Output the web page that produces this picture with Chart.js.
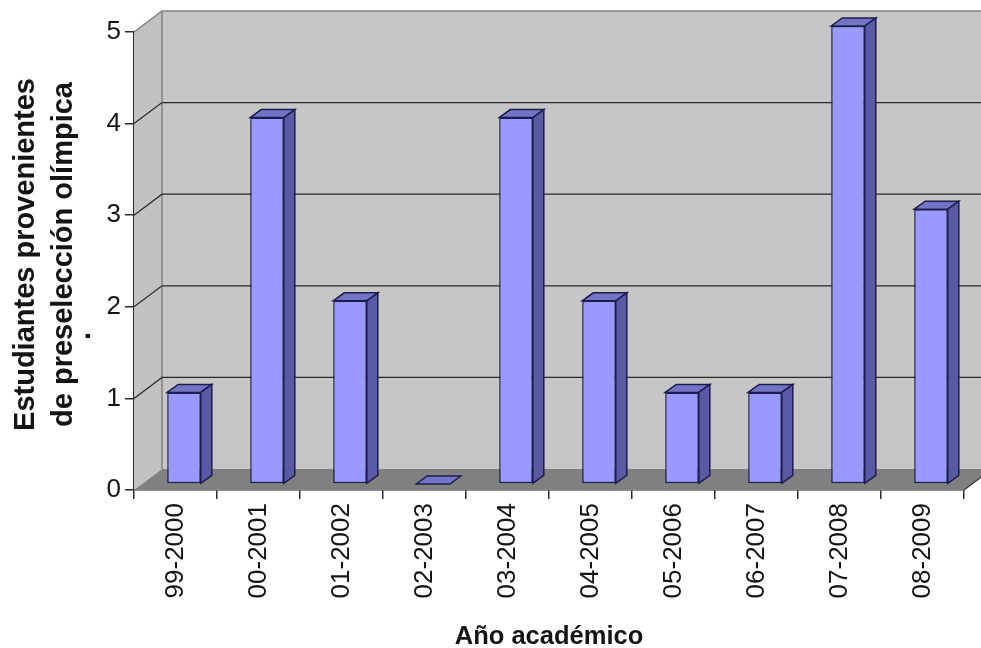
<!DOCTYPE html>
<html>
<head>
<meta charset="utf-8">
<title>Estudiantes provenientes de preselección olímpica</title>
<script src="https://cdn.jsdelivr.net/npm/chart.js@4"></script>
<style>
    html, body { margin: 0; padding: 0; background: #fff; }
    canvas { display: block; }
</style>
</head>
<body>
<canvas id="barChart" width="981" height="648"></canvas>
<script>
//============================================= Data =============================================//
const categories = ['99-2000', '00-2001', '01-2002', '02-2003', '03-2004', '04-2005', '05-2006', '06-2007', '07-2008', '08-2009'];
const estudiantes = [1, 4, 2, 0, 4, 2, 1, 1, 5, 3];
const yTitleLines = ['Estudiantes provenientes', 'de preselección olímpica'];
const xTitle = 'Año académico';

//============================================= 3D look =============================================//
// depth of the box the bars stand in, and of the bars themselves
const WALL_DX = 28, WALL_DY = -21;
const BAR_SHIFT_X = 8.5, BAR_SHIFT_Y = -6;
const BAR_DX = 11, BAR_DY = -8;
const FONT = '"Liberation Sans", Arial, sans-serif';
const DARK = '#1c1c50';
const TEXT = '#141414';

function poly(ctx, pts, fill, stroke, lw) {
    ctx.beginPath();
    pts.forEach((p, i) => i ? ctx.lineTo(p[0], p[1]) : ctx.moveTo(p[0], p[1]));
    ctx.closePath();
    if (fill) { ctx.fillStyle = fill; ctx.fill(); }
    if (stroke) { ctx.strokeStyle = stroke; ctx.lineWidth = lw || 1; ctx.stroke(); }
}

const box3d = {
    id: 'box3d',
    beforeDatasetsDraw(chart) {
        const { ctx, chartArea: a, scales: { y } } = chart;
        const bx = a.left + WALL_DX, top = a.top + WALL_DY, floor = a.bottom + WALL_DY;
        const rx = a.right + WALL_DX;

        ctx.save();
        poly(ctx, [[bx, top], [rx, top], [rx, floor], [bx, floor]], '#c6c6c6');
        poly(ctx, [[a.left, a.top], [bx, top], [bx, floor], [a.left, a.bottom]], '#c2c2c2');
        poly(ctx, [[a.left, a.bottom], [bx, floor], [rx, floor], [a.right, a.bottom]], '#808080');

        // outline of the walls
        ctx.strokeStyle = '#808080';
        ctx.lineWidth = 1.5;
        ctx.beginPath();
        ctx.moveTo(a.left, a.top); ctx.lineTo(bx, top); ctx.lineTo(rx, top);
        ctx.moveTo(bx, top); ctx.lineTo(bx, floor);
        ctx.stroke();

        // gridlines run along the side wall and then across the back
        ctx.strokeStyle = '#2a2a2a';
        ctx.lineWidth = 1.2;
        ctx.beginPath();
        y.ticks.forEach(t => {
            if (t.value === 0 || t.value === y.max) return;
            const py = y.getPixelForValue(t.value);
            ctx.moveTo(a.left, py);
            ctx.lineTo(bx, py + WALL_DY);
            ctx.lineTo(rx, py + WALL_DY);
        });
        ctx.stroke();

        // right edge of the floor
        ctx.strokeStyle = '#333';
        ctx.beginPath();
        ctx.moveTo(a.right, a.bottom);
        ctx.lineTo(rx, floor);
        ctx.stroke();
        ctx.restore();
    },
    beforeDatasetDraw(chart) {
        chart.ctx.save();
        chart.ctx.translate(BAR_SHIFT_X, BAR_SHIFT_Y);
    },
    afterDatasetDraw(chart, args) {
        const ctx = chart.ctx;
        // top and side faces follow each bar element
        chart.getDatasetMeta(args.index).data.forEach(bar => {
            const { x, y, base, width } = bar.getProps(['x', 'y', 'base', 'width'], true);
            const l = x - width / 2, r = x + width / 2;
            poly(ctx, [[l, y], [l + BAR_DX, y + BAR_DY], [r + BAR_DX, y + BAR_DY], [r, y]], '#7474c4', DARK, 1.5);
            if (base - y > 0.5) {
                poly(ctx, [[r, y], [r + BAR_DX, y + BAR_DY], [r + BAR_DX, base + BAR_DY], [r, base]], '#5a5aa4', DARK, 1.5);
            }
        });
        ctx.restore();
    },
    afterDraw(chart) {
        const ctx = chart.ctx;
        ctx.save();
        ctx.fillStyle = TEXT;
        ctx.textAlign = 'center';
        ctx.textBaseline = 'alphabetic';
        ctx.font = 'bold 29px ' + FONT;
        ctx.translate(33.5, 254.5);
        ctx.rotate(-Math.PI / 2);
        ctx.fillText(yTitleLines[0], 0, 0);
        ctx.fillText(yTitleLines[1], 0, 38);
        ctx.fillText('.', -81.5, 56.5);
        ctx.restore();
    }
};

//============================================= Bar chart =============================================//
new Chart(document.getElementById('barChart'), {
    type: 'bar',
    data: {
        labels: categories,
        datasets: [{
            label: 'Estudiantes',
            data: estudiantes,
            backgroundColor: '#9999ff',
            borderColor: DARK,
            borderWidth: 1.5,
            borderSkipped: false,
            categoryPercentage: 1,
            barPercentage: 0.405
        }]
    },
    options: {
        responsive: false,
        animation: false,
        layout: { padding: { top: 32, right: 17, left: 0, bottom: 0 } },
        plugins: {
            legend: { display: false },
            tooltip: { enabled: false }
        },
        scales: {
            x: {
                afterFit(scale) { scale.height = 158; },
                border: { color: '#2a2a2a', width: 1.5 },
                grid: { drawOnChartArea: false, drawTicks: true, tickLength: 9, color: '#2a2a2a', lineWidth: 1.5 },
                ticks: {
                    minRotation: 90,
                    maxRotation: 90,
                    padding: 4,
                    color: TEXT,
                    font: { family: FONT, size: 26 }
                },
                title: {
                    display: true,
                    text: xTitle,
                    color: TEXT,
                    padding: { top: 10, bottom: 0 },
                    font: { family: FONT, size: 25.5, weight: 'bold', lineHeight: 0.85 }
                }
            },
            y: {
                min: 0,
                max: 5,
                afterFit(scale) { scale.width = 134; },
                border: { color: '#2a2a2a', width: 1.5 },
                grid: { drawOnChartArea: false, drawTicks: true, tickLength: 9, color: '#2a2a2a', lineWidth: 1.5 },
                ticks: {
                    stepSize: 1,
                    padding: 4,
                    color: TEXT,
                    font: { family: FONT, size: 26 }
                }
            }
        }
    },
    plugins: [box3d]
});
</script>
</body>
</html>
